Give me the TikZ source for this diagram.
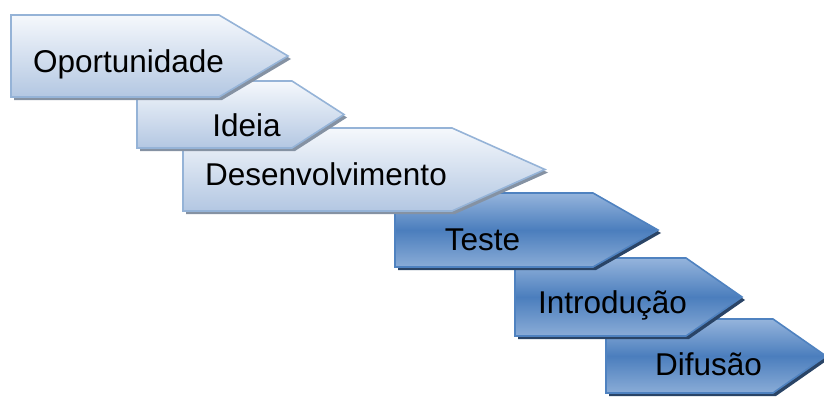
\documentclass[tikz,border=0pt]{standalone}
\usepackage{fontspec}
\setmainfont{Liberation Sans}
\definecolor{paleTop}{HTML}{F5F8FC}
\definecolor{paleBot}{HTML}{B3C7E2}
\definecolor{paleEdge}{HTML}{95B3D7}
\definecolor{paleShadow}{HTML}{8592A3}
\definecolor{deepTop}{HTML}{95B4DC}
\definecolor{deepMid}{HTML}{4B7EBD}
\definecolor{deepBot}{HTML}{8AACD7}
\definecolor{deepEdge}{HTML}{4F82C0}
\definecolor{deepShadow}{HTML}{2A4466}
\tikzset{
  pale/.style={draw=paleEdge, line width=1.6pt, line join=miter,
    top color=paleTop, bottom color=paleBot},
  pale shadow/.style={fill=paleShadow},
  deep/.style={draw=deepEdge, line width=1.6pt, line join=miter,
    top color=deepTop, bottom color=deepBot, middle color=deepMid},
  deep shadow/.style={fill=deepShadow},
  label/.style={anchor=base, inner sep=0pt, text=black,
    font=\fontsize{31.5pt}{36pt}\selectfont}
}
% #1 left, #2 top, #3 bottom, #4 shoulder x, #5 tip x, #6 style
\newcommand\stagearrow[6]{%
  \fill[#6 shadow] ({#1+3},{#2+3}) -- ({#4+3},{#2+3}) -- ({#5+3},{(#2+#3)/2+3})
    -- ({#4+3},{#3+3}) -- ({#1+3},{#3+3}) -- cycle;
  \path[#6] (#1,#2) -- (#4,#2) -- (#5,{(#2+#3)/2}) -- (#4,#3) -- (#1,#3) -- cycle;
}
\begin{document}
\begin{tikzpicture}[x=1pt, y=-1pt]
  \useasboundingbox (0,0) rectangle (824,396);
  % stages are drawn from last to first so each one overlaps the next
  \stagearrow{606}{319}{393}{773}{826}{deep}
  \stagearrow{515}{258}{336}{686}{742}{deep}
  \stagearrow{395}{193}{267}{593}{658}{deep}
  \stagearrow{183}{128}{211}{452}{545}{pale}
  \stagearrow{137}{81}{148}{292}{344}{pale}
  \stagearrow{11}{15}{97}{219}{288}{pale}
  \node[label] (opp) at (128.5,73) {Oportunidade};
  \node[label] (idea) at (246.5,136) {Ideia};
  \node[label] (dev) at (326,185) {Desenvolvimento};
  \node[label] (test) at (482.5,250) {Teste};
  \node[label] (intro) at (612.5,313) {Introdução};
  \node[label] (diff) at (708.5,375) {Difusão};
\end{tikzpicture}
\end{document}
